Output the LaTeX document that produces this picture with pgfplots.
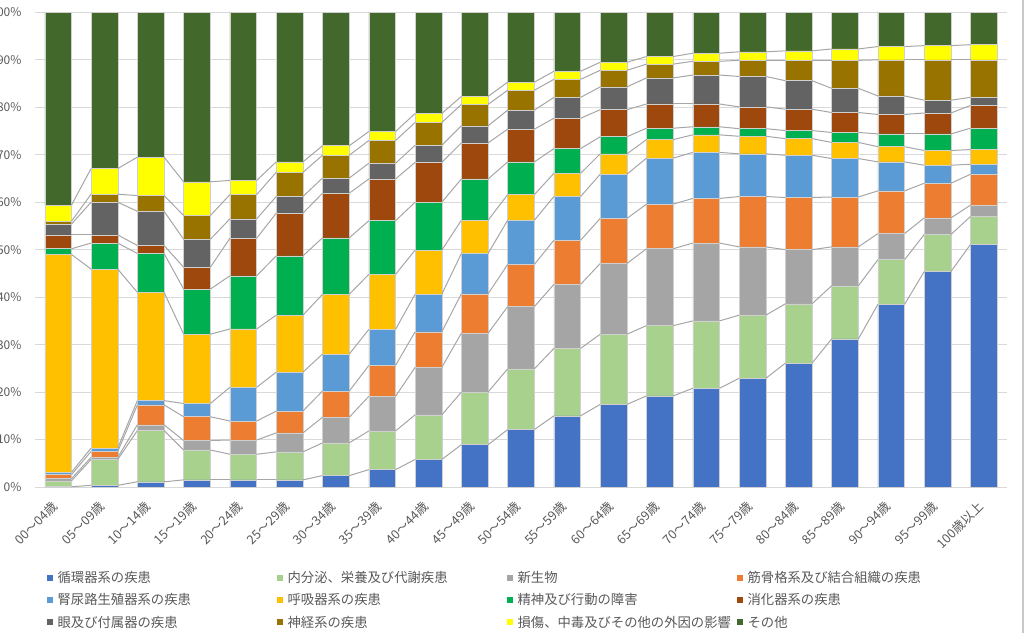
\documentclass[border=0pt]{standalone}
\usepackage{fontspec}
\setmainfont{Noto Sans CJK JP}
\usepackage{pgfplots}
\usepackage{pgfplotstable}
\pgfplotsset{compat=1.18}
\definecolor{sA}{HTML}{4472C4}
\definecolor{sB}{HTML}{A9D18E}
\definecolor{sC}{HTML}{A5A5A5}
\definecolor{sD}{HTML}{ED7D31}
\definecolor{sE}{HTML}{5B9BD5}
\definecolor{sF}{HTML}{FFC000}
\definecolor{sG}{HTML}{00B050}
\definecolor{sH}{HTML}{9E480E}
\definecolor{sI}{HTML}{636363}
\definecolor{sJ}{HTML}{997300}
\definecolor{sK}{HTML}{FFFF00}
\definecolor{sL}{HTML}{43682B}
\definecolor{gridgray}{HTML}{D9D9D9}
\definecolor{txtgray}{HTML}{595959}
\definecolor{serline}{HTML}{A6A6A6}
\definecolor{barline}{HTML}{D0D0D0}
\definecolor{framegray}{HTML}{C8C8C8}

% cumulative shares (%) : top of each series, bottom series first
\pgfplotstableread{
i  c1    c2    c3    c4    c5    c6    c7    c8    c9    c10   c11
0  0.05  1.3   1.75  2.6   3.1   49.0  50.2  53.1  55.4  56.0  59.4
1  0.35  5.8   6.25  7.5   8.2   45.9  51.4  53.1  60.0  61.7  67.1
2  1.1   11.9  13.1  17.3  18.2  41.0  49.2  50.9  58.1  61.4  69.5
3  1.5   7.8   9.8   14.8  17.6  32.2  41.7  46.3  52.2  57.2  64.3
4  1.5   6.9   9.9   13.9  21.0  33.3  44.5  52.4  56.5  61.6  64.6
5  1.5   7.4   11.4  16.0  24.2  36.2  48.7  57.7  61.2  66.3  68.5
6  2.4   9.3   14.7  20.2  28.0  40.6  52.5  61.9  65.1  69.9  71.9
7  3.65  11.8  19.1  25.6  33.2  44.8  56.1  64.9  68.2  73.0  74.9
8  5.8   15.2  25.2  32.7  40.6  49.9  60.0  68.4  72.0  76.8  78.7
9  8.9   20.0  32.4  40.7  49.2  56.2  64.9  72.5  76.1  80.6  82.3
10 12.1  24.9  38.0  46.9  56.2  61.6  68.5  75.4  79.4  83.6  85.3
11 15.0  29.2  42.7  52.0  61.2  66.1  71.3  77.7  82.1  85.9  87.6
12 17.4  32.2  47.1  56.6  65.9  70.2  73.8  79.5  84.3  87.8  89.5
13 19.2  34.0  50.2  59.6  69.3  73.2  75.6  80.7  86.2  89.1  90.7
14 20.8  35.0  51.4  60.8  70.5  74.2  75.9  80.7  86.8  89.7  91.4
15 22.9  36.2  50.6  61.2  70.2  73.9  75.5  80.1  86.5  89.9  91.7
16 26.1  38.6  50.0  61.0  69.9  73.4  75.1  79.6  85.6  89.9  91.9
17 31.2  42.4  50.6  61.1  69.2  72.6  74.7  78.9  84.0  89.9  92.3
18 38.5  47.9  53.4  62.4  68.5  71.7  74.4  78.5  82.4  90.0  92.8
19 45.4  53.2  56.7  64.0  67.8  70.9  74.4  78.8  81.5  90.0  93.0
20 51.1  57.0  59.4  65.9  68.0  71.1  75.6  80.4  82.1  90.0  93.2
}\cum
\pgfplotsinvokeforeach{1,...,11}{%
  \pgfplotstablecreatecol[create col/expr={\prevrow{c#1}-\thisrow{c#1}}]{d#1}{\cum}%
}

\newcommand\LE[1]{\makebox[168pt][l]{\hspace{3.5pt}#1}}

\begin{document}
\begin{tikzpicture}
\pgfplotsset{
  common/.style={
    at={(26.25pt,109.5pt)}, anchor=south west,
    scale only axis, width=729pt, height=355.95pt,
    xmin=-0.5, xmax=20.5, ymin=0, ymax=100,
  }
}
\begin{axis}[
  common,
  ybar stacked, bar width=0.577,
  xtick={0,...,20},
  xticklabels={00～04歳,05～09歳,10～14歳,15～19歳,20～24歳,25～29歳,30～34歳,35～39歳,40～44歳,45～49歳,50～54歳,55～59歳,60～64歳,65～69歳,70～74歳,75～79歳,80～84歳,85～89歳,90～94歳,95～99歳,100歳以上},
  ytick={0,10,...,100},
  yticklabels={0\%,10\%,20\%,30\%,40\%,50\%,60\%,70\%,80\%,90\%,100\%},
  ymajorgrids, grid style={draw=gridgray, line width=0.75pt},
  axis line style={draw=none}, major tick length=0pt,
  tick label style={text=txtgray, font=\fontsize{9}{10}\selectfont},
  yticklabel style={anchor=east, inner sep=0pt, xshift=-10pt},
  xticklabel style={anchor=east, inner sep=0pt, font=\fontsize{9.5}{10}\selectfont, xshift=-2pt, yshift=-12.5pt, rotate=45},
  legend columns=4,
  legend style={at={(axis description cs:0.01235,-0.177)}, anchor=north west,
    draw=none, fill=none, inner sep=0pt, outer sep=0pt,
    column sep=0pt, row sep=6.9pt,
    nodes={inner sep=0pt, text=txtgray, font=\fontsize{10}{12}\selectfont}},
  legend image code/.code={\path[#1,draw=none] (0pt,-2.25pt) rectangle (4.5pt,2.25pt);},
  every axis plot/.append style={draw=barline, line width=0.4pt},
]
\addplot[fill=sA] table[x=i, y=c1] {\cum}; \addlegendentry{\LE{循環器系の疾患}}
\addplot[fill=sB] table[x=i, y expr=\thisrow{c2}-\thisrow{c1}] {\cum}; \addlegendentry{\LE{内分泌、栄養及び代謝疾患}}
\addplot[fill=sC] table[x=i, y expr=\thisrow{c3}-\thisrow{c2}] {\cum}; \addlegendentry{\LE{新生物}}
\addplot[fill=sD] table[x=i, y expr=\thisrow{c4}-\thisrow{c3}] {\cum}; \addlegendentry{\LE{筋骨格系及び結合組織の疾患}}
\addplot[fill=sE] table[x=i, y expr=\thisrow{c5}-\thisrow{c4}] {\cum}; \addlegendentry{\LE{腎尿路生殖器系の疾患}}
\addplot[fill=sF] table[x=i, y expr=\thisrow{c6}-\thisrow{c5}] {\cum}; \addlegendentry{\LE{呼吸器系の疾患}}
\addplot[fill=sG] table[x=i, y expr=\thisrow{c7}-\thisrow{c6}] {\cum}; \addlegendentry{\LE{精神及び行動の障害}}
\addplot[fill=sH] table[x=i, y expr=\thisrow{c8}-\thisrow{c7}] {\cum}; \addlegendentry{\LE{消化器系の疾患}}
\addplot[fill=sI] table[x=i, y expr=\thisrow{c9}-\thisrow{c8}] {\cum}; \addlegendentry{\LE{眼及び付属器の疾患}}
\addplot[fill=sJ] table[x=i, y expr=\thisrow{c10}-\thisrow{c9}] {\cum}; \addlegendentry{\LE{神経系の疾患}}
\addplot[fill=sK] table[x=i, y expr=\thisrow{c11}-\thisrow{c10}] {\cum}; \addlegendentry{\LE{損傷、中毒及びその他の外因の影響}}
\addplot[fill=sL] table[x=i, y expr=100-\thisrow{c11}] {\cum}; \addlegendentry{\LE{その他}}
\end{axis}
\begin{axis}[common, hide axis]
\pgfplotsinvokeforeach{1,...,11}{%
  \addplot[quiver={u=-0.423, v=\thisrow{d#1}}, draw=serline, line width=0.75pt,
    skip coords between index={0}{1}]
    table[x expr=\thisrow{i}-0.2885, y=c#1] {\cum};
}
\end{axis}
\draw[framegray, line width=1.2pt] (767.25pt,0pt) -- (767.25pt,474.75pt);
\pgfresetboundingbox
\path[use as bounding box] (0pt,0pt) rectangle (774pt,474.75pt);
\end{tikzpicture}
\end{document}
